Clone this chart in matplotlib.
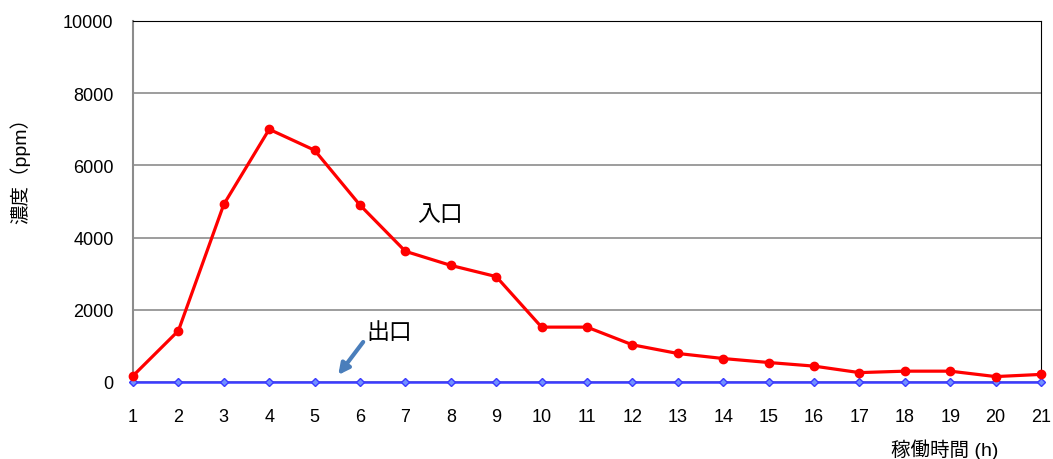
import matplotlib.pyplot as plt

plt.rcParams['font.family'] = ['Liberation Sans', 'Noto Sans CJK JP']

hours = list(range(1, 22))
inlet = [170, 1420, 4920, 7000, 6420, 4900, 3620, 3230, 2920, 1520, 1520,
         1030, 790, 650, 540, 440, 260, 300, 300, 150, 210]
outlet = [10] * 21

fig = plt.figure(figsize=(10.53, 4.6), dpi=100)
ax = fig.add_axes([0.1263, 0.1674, 0.8623, 0.7848])

ax.plot(hours, inlet, color="#ff0000", lw=2.3, marker="o", ms=6, zorder=4,
        clip_on=False)
ax.plot(hours, outlet, color="#3a3aff", lw=1.8, marker="D", ms=4.5,
        mfc="#7090ff", mec="#3a3aff", zorder=3, clip_on=False)

ax.set_xlim(1, 21)
ax.set_ylim(0, 10000)
ax.set_xticks(hours)
ax.set_yticks(range(0, 10001, 2000))
ax.tick_params(length=0, labelsize=13)
ax.tick_params(axis="y", pad=14)
ax.tick_params(axis="x", pad=19)
ax.grid(axis="y", color="#8c8c8c", lw=1.2)
ax.set_axisbelow(True)

ax.spines["left"].set_color("#8c8c8c")
ax.spines["left"].set_linewidth(1.5)
ax.spines["bottom"].set_visible(False)
ax.spines["top"].set_color("black")
ax.spines["right"].set_color("black")

ax.set_ylabel("濃度（ppm）", fontsize=14)
ax.yaxis.set_label_coords(-0.113, 0.6)
ax.set_xlabel("稼働時間 (h)", fontsize=14)
ax.xaxis.set_label_coords(0.894, -0.155)

ax.text(7.76, 4667, "入口", fontsize=16.5, ha="center", va="center")
ax.text(6.64, 1390, "出口", fontsize=16.5, ha="center", va="center")
ax.annotate("", xy=(5.52, 194), xytext=(6.07, 1108),
            arrowprops=dict(arrowstyle="-|>", color="#4a7ebb", lw=3,
                            mutation_scale=16, shrinkA=0, shrinkB=0))

fig.savefig("out.png", dpi=100)
